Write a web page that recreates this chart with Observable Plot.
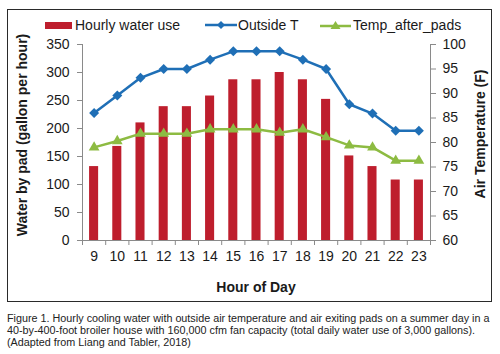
<!DOCTYPE html>
<html>
<head>
<meta charset="utf-8">
<script src="https://cdn.jsdelivr.net/npm/d3@7"></script>
<script src="https://cdn.jsdelivr.net/npm/@observablehq/plot@0.6"></script>
<style>
  body { margin: 0; background: #fff; }
  #wrap { position: relative; width: 500px; height: 354px; overflow: hidden; font-family: "Liberation Sans", Arial, sans-serif; color: #1a1a1a; }
  #frame { position: absolute; left: 7px; top: 9px; width: 483px; height: 291px; border: 1.5px solid #2a2a2a; }
  #chart { position: absolute; left: 0; top: 0; }
  .legend { position: absolute; top: 17px; font-size: 14px; white-space: nowrap; display: flex; align-items: center; }
  .ytitle { position: absolute; font-size: 14px; font-weight: bold; white-space: nowrap; transform: translate(-50%, -50%) rotate(-90deg); }
  .xtitle { position: absolute; font-size: 14px; font-weight: bold; white-space: nowrap; transform: translate(-50%, -50%); }
  #caption { position: absolute; left: 7px; top: 312px; font-family: "Liberation Sans", Arial, sans-serif; font-size: 10.5px; color: #222; }
  #caption div { white-space: nowrap; height: 12px; line-height: 12px; }
  #caption span { display: inline-block; }
</style>
</head>
<body>
<div id="wrap">
  <div id="frame"></div>
  <div id="chart"></div>
  <div class="legend" style="left:45px;">
    <span style="display:inline-block;width:27px;height:7px;background:#be1e2d;margin-right:3px;"></span>Hourly water use
  </div>
  <div class="legend" style="left:205px;">
    <svg width="32" height="12" style="margin-right:1px"><line x1="0" y1="6" x2="32" y2="6" stroke="#1f6fb6" stroke-width="2.5"/><path d="M16,2 L20,6 L16,10 L12,6Z" fill="#1f6fb6"/></svg>Outside T
  </div>
  <div class="legend" style="left:320px;">
    <svg width="31" height="12" style="margin-right:2px"><line x1="0" y1="7" x2="31" y2="7" stroke="#8dbb42" stroke-width="2.5"/><path d="M15.5,2 L20.5,10 L10.5,10Z" fill="#8dbb42"/></svg>Temp_after_pads
  </div>
  <div class="ytitle" style="left:22px; top:135px;">Water by pad (gallon per hour)</div>
  <div class="ytitle" style="left:480px; top:134px;">Air Temperature (F)</div>
  <div class="xtitle" style="left:256px; top:287px;">Hour of Day</div>
  <div id="caption">
    <div><span id="cap1">Figure 1. Hourly cooling water with outside air temperature and air exiting pads on a summer day in a</span></div>
    <div><span>40-by-400-foot broiler house with 160,000 cfm fan capacity (total daily water use of 3,000 gallons).</span></div>
    <div><span>(Adapted from Liang and Tabler, 2018)</span></div>
  </div>
</div>
<script>
const hours = [9, 10, 11, 12, 13, 14, 15, 16, 17, 18, 19, 20, 21, 22, 23];
const waterUse = [132, 168, 210, 239, 239, 258, 287, 287, 300, 287, 252, 151, 132, 108, 108];
const outsideT = [86.0, 89.6, 93.2, 95.0, 95.0, 96.9, 98.6, 98.6, 98.6, 96.9, 95.0, 87.8, 85.9, 82.4, 82.4];
const tempAfterPads = [79.0, 80.3, 81.8, 81.8, 81.8, 82.7, 82.7, 82.7, 82.0, 82.7, 81.1, 79.4, 79.0, 76.3, 76.3];
const waterTicks = [0, 50, 100, 150, 200, 250, 300, 350];
const tempTicks = [60, 65, 70, 75, 80, 85, 90, 95, 100];

// secondary axis mapping: temperature [60,100] onto water scale [0,350]
const tMin = 60, tMax = 100, wMax = 350;
const toW = t => (t - tMin) * wMax / (tMax - tMin);
const toT = w => tMin + w * (tMax - tMin) / wMax;

const rows = hours.map((h, i) => ({hour: h, water: waterUse[i], out: toW(outsideT[i]), pad: toW(tempAfterPads[i])}));
const bounds = [hours[0] - 0.5, ...hours.map(h => h + 0.5)];

const red = "#be1e2d", blue = "#1f6fb6", green = "#8dbb42", axisCol = "#8a8a8a";

const chart = Plot.plot({
  width: 500,
  height: 302,
  marginLeft: 82,
  marginRight: 70,
  marginTop: 44,
  marginBottom: 62,
  style: {fontFamily: "Liberation Sans, Arial, sans-serif", fontSize: "14px", color: "#1a1a1a", background: "transparent"},
  x: {type: "linear", domain: [bounds[0], bounds[bounds.length - 1]]},
  y: {domain: [0, wMax]},
  marks: [
    Plot.rectY(rows, {x1: d => d.hour - 0.195, x2: d => d.hour + 0.195, y: "water", fill: red}),
    Plot.ruleY([0], {stroke: axisCol, strokeWidth: 1}),
    Plot.ruleX([bounds[0], bounds[bounds.length - 1]], {stroke: axisCol, strokeWidth: 1}),
    Plot.axisX({ticks: bounds, tickSize: 5, tickFormat: () => "", stroke: axisCol, label: null}),
    Plot.axisX({ticks: hours, tickSize: 0, tickPadding: 11, label: null, fontSize: 14}),
    Plot.axisY({ticks: waterTicks, tickSize: 5, tickPadding: 8, stroke: axisCol, label: null, fontSize: 14}),
    Plot.axisY({anchor: "right", ticks: tempTicks.map(toW), tickFormat: d => String(Math.round(toT(d))), tickSize: 5, tickPadding: 7, stroke: axisCol, label: null, fontSize: 14}),
    Plot.line(rows, {x: "hour", y: "out", stroke: blue, strokeWidth: 2.5}),
    Plot.dot(rows, {x: "hour", y: "out", symbol: "diamond2", r: 4.5, fill: blue, stroke: "none"}),
    Plot.line(rows, {x: "hour", y: "pad", stroke: green, strokeWidth: 2.5}),
    Plot.dot(rows, {x: "hour", y: "pad", symbol: "triangle", r: 4, fill: green, stroke: "none"})
  ]
});
document.getElementById("chart").appendChild(chart);

// fit caption so its first line spans the frame width as in the reference
const cap = document.getElementById("caption");
const w1 = document.getElementById("cap1").getBoundingClientRect().width;
const fs = Math.min(11, 10.5 * 483 / w1);
cap.style.fontSize = fs.toFixed(2) + "px";
</script>
</body>
</html>
